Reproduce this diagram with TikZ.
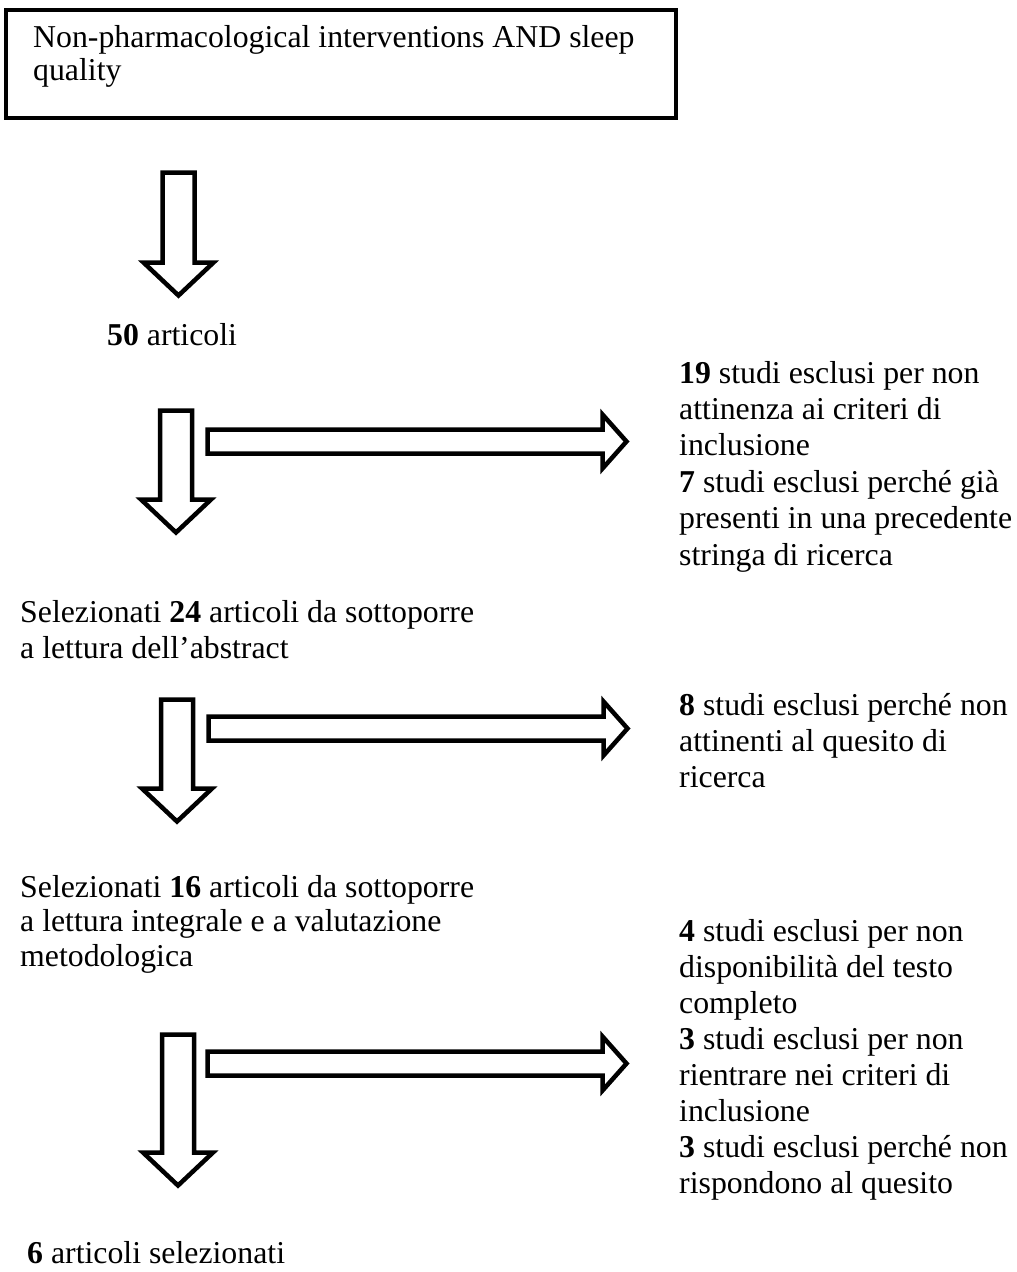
\documentclass[tikz,border=0pt]{standalone}
\usepackage{fontspec}
\setmainfont{Liberation Serif}
\begin{document}
\begin{tikzpicture}[x=1pt,y=-1pt,
  frame/.style={draw=black,line width=4.5pt,inner sep=0pt,anchor=north west},
  % multi-line texts are placed by the baseline of their last line
  txt/.style={inner sep=0pt,anchor=base west,align=left,
    font=\fontsize{31.8}{36}\selectfont},
  blockarrow/.style={draw=black,fill=white,line width=4.5pt,miter limit=10}]
\useasboundingbox (0,0) rectangle (1017,1272);

% block arrows: down arrow (centre x, top y, head y), right arrow (left x, centre y, head x)
\newcommand\BlockDown[3]{%
  \draw[blockarrow] ({#1-16},{#2}) -- ({#1+16},{#2}) -- ({#1+16},{#3})
    -- ({#1+35},{#3}) -- ({#1},{#3+33}) -- ({#1-35},{#3}) -- ({#1-16},{#3}) -- cycle;}
\newcommand\BlockRight[3]{%
  \draw[blockarrow] ({#1},{#2-12}) -- ({#3},{#2-12}) -- ({#3},{#2-27})
    -- ({#3+24},{#2}) -- ({#3},{#2+27}) -- ({#3},{#2+12}) -- ({#1},{#2+12}) -- cycle;}

% search query
\node[frame,minimum width=670pt,minimum height=108pt] (query) at (3.5,7.5) {};
\node[txt,font=\fontsize{31.8}{33}\selectfont] (querytext) at (33,80)
  {Non-pharmacological interventions AND sleep\\quality};

% left column
\node[txt] (n50) at (107,345) {\textbf{50} articoli};
\node[txt] (sel24) at (20,658) {Selezionati \textbf{24} articoli da sottoporre\\a lettura dell’abstract};
\node[txt,font=\fontsize{31.8}{34.5}\selectfont] (sel16) at (20,966) {Selezionati \textbf{16} articoli da sottoporre\\a lettura integrale e a valutazione\\metodologica};
\node[txt] (fin6) at (27,1263) {\textbf{6} articoli selezionati};

% right column
\node[txt,font=\fontsize{31.8}{36.4}\selectfont] (excl1) at (679,565) {\textbf{19} studi esclusi per non\\attinenza ai criteri di\\inclusione\\\textbf{7} studi esclusi perché già\\presenti in una precedente\\stringa di ricerca};
\node[txt] (excl2) at (679,787) {\textbf{8} studi esclusi perché non\\attinenti al quesito di\\ricerca};
\node[txt,font=\fontsize{31.8}{35.9}\selectfont] (excl3) at (679,1193) {\textbf{4} studi esclusi per non\\disponibilità del testo\\completo\\\textbf{3} studi esclusi per non\\rientrare nei criteri di\\inclusione\\\textbf{3} studi esclusi perché non\\rispondono al quesito};

% arrows
\BlockDown{178.5}{172.5}{262.5}
\BlockDown{176}{410.5}{499.5}
\BlockRight{207.5}{441.5}{602.5}
\BlockDown{177}{699.5}{788.5}
\BlockRight{208.5}{728.5}{603.5}
\BlockDown{178}{1034.5}{1152.5}
\BlockRight{207.5}{1063.5}{602.5}
\end{tikzpicture}
\end{document}
